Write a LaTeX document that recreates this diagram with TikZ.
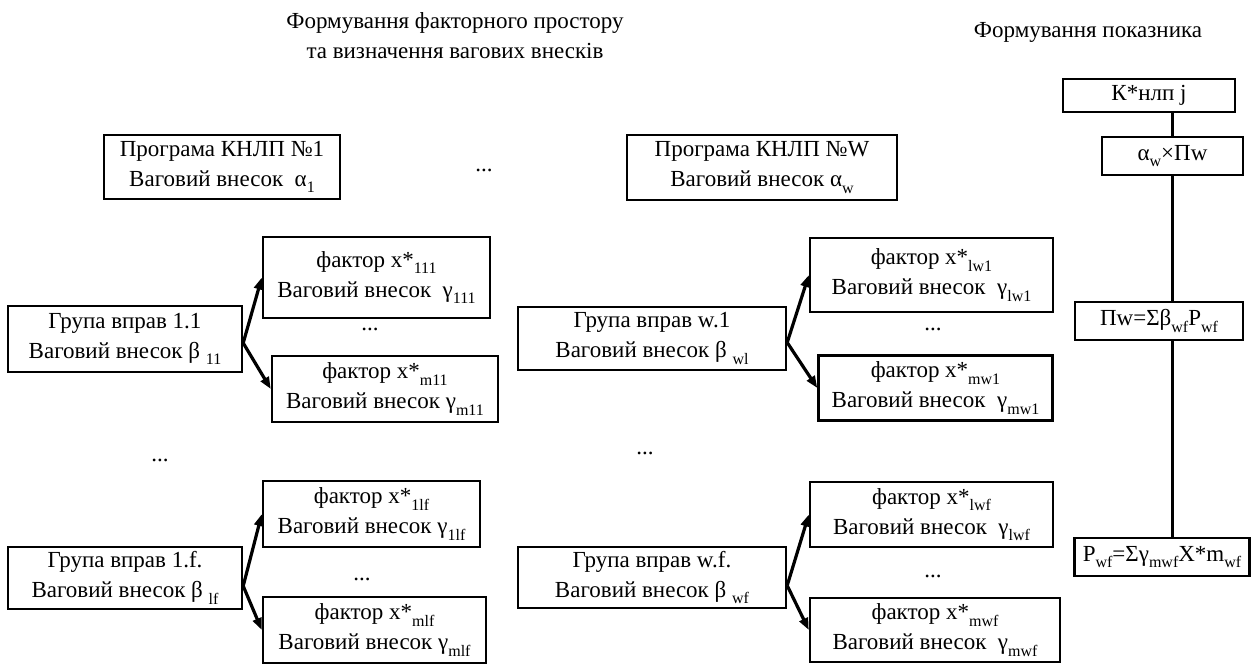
\documentclass[tikz,border=0pt]{standalone}
\usepackage{fontspec}
\setmainfont{Liberation Serif}
\usetikzlibrary{arrows.meta}
\newcommand{\lo}[1]{\raisebox{-0.6ex}{\footnotesize #1}}

\begin{document}
\begin{tikzpicture}[x=0.5pt, y=-0.5pt,
	txt/.style={align=center, font=\fontsize{11.5}{15}\selectfont},
	box/.style={txt, draw, line width=1.2pt, inner sep=0pt},
	link/.style={line width=1.6pt, -{Triangle[length=6pt, width=4.5pt]}},
	]
	\useasboundingbox (0,0) rectangle (1258,666);

	\node[txt] (t0) at (455,36) {Формування факторного простору\\ та визначення вагових внесків};
	\node[txt] (t1) at (1088,32) {Формування показника};

	\node[box, minimum width=118pt, minimum height=32pt] (p1) at (222,167) {Програма КНЛП №1\\ Ваговий внесок \ α\lo{1}};
	\node[txt] (dp) at (484,170) {...};
	\node[box, minimum width=135pt, minimum height=32.5pt] (pw) at (762,167.5) {Програма КНЛП №W\\ Ваговий внесок α\lo{w}};

	% program 1
	\node[box, minimum width=117pt, minimum height=33pt] (g11) at (125,339) {Група вправ 1.1\\ Ваговий внесок β \lo{11}};
	\node[box, minimum width=113.5pt, minimum height=40.5pt] (f111) at (376.5,277.5) {фактор x*\lo{111}\\ Ваговий внесок \ γ\lo{111}};
	\node[txt] (d11) at (370,329) {...};
	\node[box, minimum width=113pt, minimum height=33pt] (fm11) at (385,389) {фактор x*\lo{m11}\\ Ваговий внесок γ\lo{m11}};
	\node[txt] (dl) at (160,460) {...};
	\node[box, minimum width=117pt, minimum height=31pt] (g1f) at (125,578) {Група вправ 1.f.\\ Ваговий внесок β \lo{lf}};
	\node[box, minimum width=108.5pt, minimum height=33pt] (f1lf) at (371.5,514) {фактор x*\lo{1lf}\\ Ваговий внесок γ\lo{1lf}};
	\node[txt] (d1f) at (362,579) {...};
	\node[box, minimum width=111.5pt, minimum height=33pt] (fm1f) at (374.5,630) {фактор x*\lo{mlf}\\ Ваговий внесок γ\lo{mlf}};

	% program W
	\node[box, minimum width=134pt, minimum height=31.5pt] (gw1) at (652,338.5) {Група вправ w.1\\ Ваговий внесок β \lo{wl}};
	\node[box, minimum width=121.5pt, minimum height=37pt] (flw1) at (931.5,275) {фактор x*\lo{lw1}\\ Ваговий внесок \ γ\lo{lw1}};
	\node[txt] (dw1) at (933,329) {...};
	\node[box, minimum width=117pt, minimum height=32.5pt] (fmw1) at (935.5,388) {фактор x*\lo{mw1}\\ Ваговий внесок \ γ\lo{mw1}};
	\node[txt] (dm) at (645,453) {...};
	\node[box, minimum width=134pt, minimum height=30.5pt] (gwf) at (652,577.5) {Група вправ w.f.\\ Ваговий внесок β \lo{wf}};
	\node[box, minimum width=121.5pt, minimum height=32.5pt] (flwf) at (931.5,514.5) {фактор x*\lo{lwf}\\ Ваговий внесок \ γ\lo{lwf}};
	\node[txt] (dwf) at (933,576) {...};
	\node[box, minimum width=125pt, minimum height=32pt] (fmwf) at (935,630) {фактор x*\lo{mwf}\\ Ваговий внесок \ γ\lo{mwf}};

	% indicator
	\node[box, minimum width=86pt, minimum height=16.5pt] (k) at (1149,95.5) {К*нлп j};
	\node[box, minimum width=70.5pt, minimum height=19pt] (aw) at (1172.5,156) {α\lo{w}×Пw};
	\node[box, minimum width=84pt, minimum height=19pt] (sw) at (1159,321) {Пw=Σβ\lo{wf}P\lo{wf}};
	\node[box, minimum width=87.5pt, minimum height=19pt] (swf) at (1162,557) {P\lo{wf}=Σγ\lo{mwf}X*m\lo{wf}};

	\draw[link] ([yshift=-2pt]g11.east) to (f111.west);
	\draw[link] ([yshift=-2pt]g11.east) to (fm11.west);
	\draw[link] ([yshift=-4pt]g1f.east) to (f1lf.west);
	\draw[link] ([yshift=-4pt]g1f.east) to (fm1f.west);
	\draw[link] ([yshift=-2pt]gw1.east) to (flw1.west);
	\draw[link] ([yshift=-2pt]gw1.east) to (fmw1.west);
	\draw[link] ([yshift=-4pt]gwf.east) to (flwf.west);
	\draw[link] ([yshift=-4pt]gwf.east) to (fmwf.west);

	\draw[line width=1.5pt] (aw.north |- k.south) to (aw.north);
	\draw[line width=1.5pt] (aw.south) to (aw.south |- sw.north);
	\draw[line width=1.5pt] (aw.south |- sw.south) to (aw.south |- swf.north);
\end{tikzpicture}
\end{document}
